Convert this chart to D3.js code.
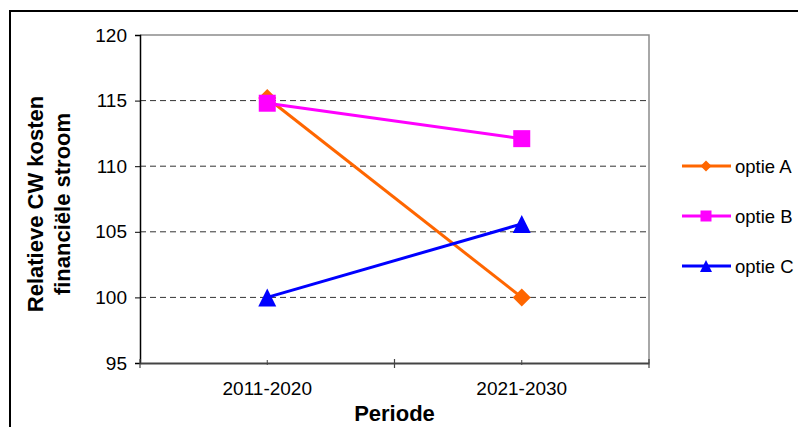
<!DOCTYPE html>
<html lang="nl">
<head>
  <meta charset="UTF-8">
  <title>Relatieve CW kosten</title>
  <script src="https://cdn.jsdelivr.net/npm/d3@7"></script>
  <style>
    body { margin: 0; background: #fff; }
    text { font-family: "Liberation Sans", Arial, sans-serif; }
  </style>
</head>
<body>
  <div id="chart"></div>

  <script>
    const periodes = ["2011-2020", "2021-2030"];
    const optieA = [115.2, 100];
    const optieB = [114.8, 112.1];
    const optieC = [100, 105.6];
    const yTicks = [95, 100, 105, 110, 115, 120];

    const series = [
      {name: "optie A", values: optieA, color: "#ff6600", shape: "diamond"},
      {name: "optie B", values: optieB, color: "#ff00ff", shape: "square"},
      {name: "optie C", values: optieC, color: "#0000ff", shape: "triangle"}
    ];

    const width = 798, height = 427;
    const plot = {left: 140, right: 649, top: 35, bottom: 363};

    const svg = d3.select("#chart")
      .append("svg")
        .attr("width", width)
        .attr("height", height);

    // outer chart border (runs off the right and bottom)
    svg.append("rect")
      .attr("x", 10).attr("y", 11)
      .attr("width", 820).attr("height", 440)
      .attr("fill", "none")
      .attr("stroke", "#000")
      .attr("stroke-width", 2);

    const x = d3.scaleBand()
      .domain(periodes)
      .range([plot.left, plot.right]);

    const y = d3.scaleLinear()
      .domain([95, 120])
      .range([plot.bottom, plot.top]);

    // plot frame top/right
    svg.append("path")
      .attr("d", `M${plot.left},${plot.top}H${plot.right}V${plot.bottom}`)
      .attr("fill", "none")
      .attr("stroke", "#8c8c8c")
      .attr("stroke-width", 1.5);

    // gridlines
    svg.selectAll(".grid")
      .data(yTicks.filter(d => d > 95 && d < 120))
      .join("line")
        .attr("class", "grid")
        .attr("x1", plot.left).attr("x2", plot.right)
        .attr("y1", d => y(d)).attr("y2", d => y(d))
        .attr("stroke", "#333")
        .attr("stroke-width", 1)
        .attr("stroke-dasharray", "6,4");

    // y axis
    const yAxis = svg.append("g")
      .attr("transform", `translate(${plot.left},0)`)
      .call(d3.axisLeft(y).tickValues(yTicks).tickSize(5).tickPadding(8));
    yAxis.select(".domain").attr("stroke", "#000").attr("stroke-width", 1.5);
    yAxis.selectAll(".tick line").attr("stroke", "#000");
    yAxis.selectAll("text")
      .attr("font-size", 19)
      .attr("fill", "#000")
      .style("font-family", "Liberation Sans, Arial, sans-serif");

    // x axis
    const xAxis = svg.append("g")
      .attr("transform", `translate(0,${plot.bottom})`)
      .call(d3.axisBottom(x).tickSize(0).tickPadding(19).tickSizeOuter(0));
    xAxis.select(".domain").attr("stroke", "#444").attr("stroke-width", 2);
    xAxis.selectAll("text")
      .attr("font-size", 19)
      .attr("fill", "#000")
      .style("font-family", "Liberation Sans, Arial, sans-serif");

    // x tick marks: boundaries (long) and category centres (short)
    const bounds = [plot.left, x(periodes[1]), plot.right];
    xAxis.selectAll(".bound")
      .data(bounds)
      .join("line")
        .attr("class", "bound")
        .attr("x1", d => d).attr("x2", d => d)
        .attr("y1", -4).attr("y2", 5)
        .attr("stroke", "#444").attr("stroke-width", 1.2);
    xAxis.selectAll(".mid")
      .data(periodes)
      .join("line")
        .attr("class", "mid")
        .attr("x1", d => x(d) + x.bandwidth() / 2)
        .attr("x2", d => x(d) + x.bandwidth() / 2)
        .attr("y1", -3).attr("y2", 2)
        .attr("stroke", "#444").attr("stroke-width", 1);

    // axis titles
    svg.append("text")
      .attr("x", (plot.left + plot.right) / 2)
      .attr("y", 421)
      .attr("text-anchor", "middle")
      .attr("font-size", 22)
      .attr("font-weight", "bold")
      .text("Periode");

    const yTitle = svg.append("text")
      .attr("transform", `translate(43,${(plot.top + plot.bottom) / 2 + 5}) rotate(-90)`)
      .attr("text-anchor", "middle")
      .attr("font-size", 22)
      .attr("font-weight", "bold");
    yTitle.append("tspan").attr("x", 0).attr("dy", 0).text("Relatieve CW kosten");
    yTitle.append("tspan").attr("x", 0).attr("dy", 27).text("financiële stroom");

    const symbolFor = (shape, s) => {
      if (shape === "diamond") return `M0,${-s}L${s},0L0,${s}L${-s},0Z`;
      if (shape === "square") return `M${-s},${-s}H${s}V${s}H${-s}Z`;
      return `M0,${-s}L${s},${s}H${-s}Z`;
    };

    const cx = d => x(d) + x.bandwidth() / 2;
    const line = d3.line()
      .x((d, i) => cx(periodes[i]))
      .y(d => y(d));

    series.forEach(s => {
      svg.append("path")
        .attr("d", line(s.values))
        .attr("fill", "none")
        .attr("stroke", s.color)
        .attr("stroke-width", 3);
      const size = s.shape === "square" ? 8.5 : 9;
      svg.selectAll(null)
        .data(s.values)
        .join("path")
          .attr("transform", (d, i) => `translate(${cx(periodes[i])},${y(d)})`)
          .attr("d", symbolFor(s.shape, size))
          .attr("fill", s.color);
    });

    // legend
    const legend = svg.append("g").attr("transform", "translate(682,166)");
    series.forEach((s, i) => {
      const g = legend.append("g").attr("transform", `translate(0,${i * 50})`);
      g.append("line")
        .attr("x1", 0).attr("x2", 49)
        .attr("stroke", s.color).attr("stroke-width", 3);
      g.append("path")
        .attr("transform", "translate(24,0)")
        .attr("d", symbolFor(s.shape, s.shape === "triangle" ? 6 : 5.5))
        .attr("fill", s.color);
      g.append("text")
        .attr("x", 53).attr("y", 7)
        .attr("font-size", 18.5)
        .text(s.name);
    });
  </script>
</body>
</html>
